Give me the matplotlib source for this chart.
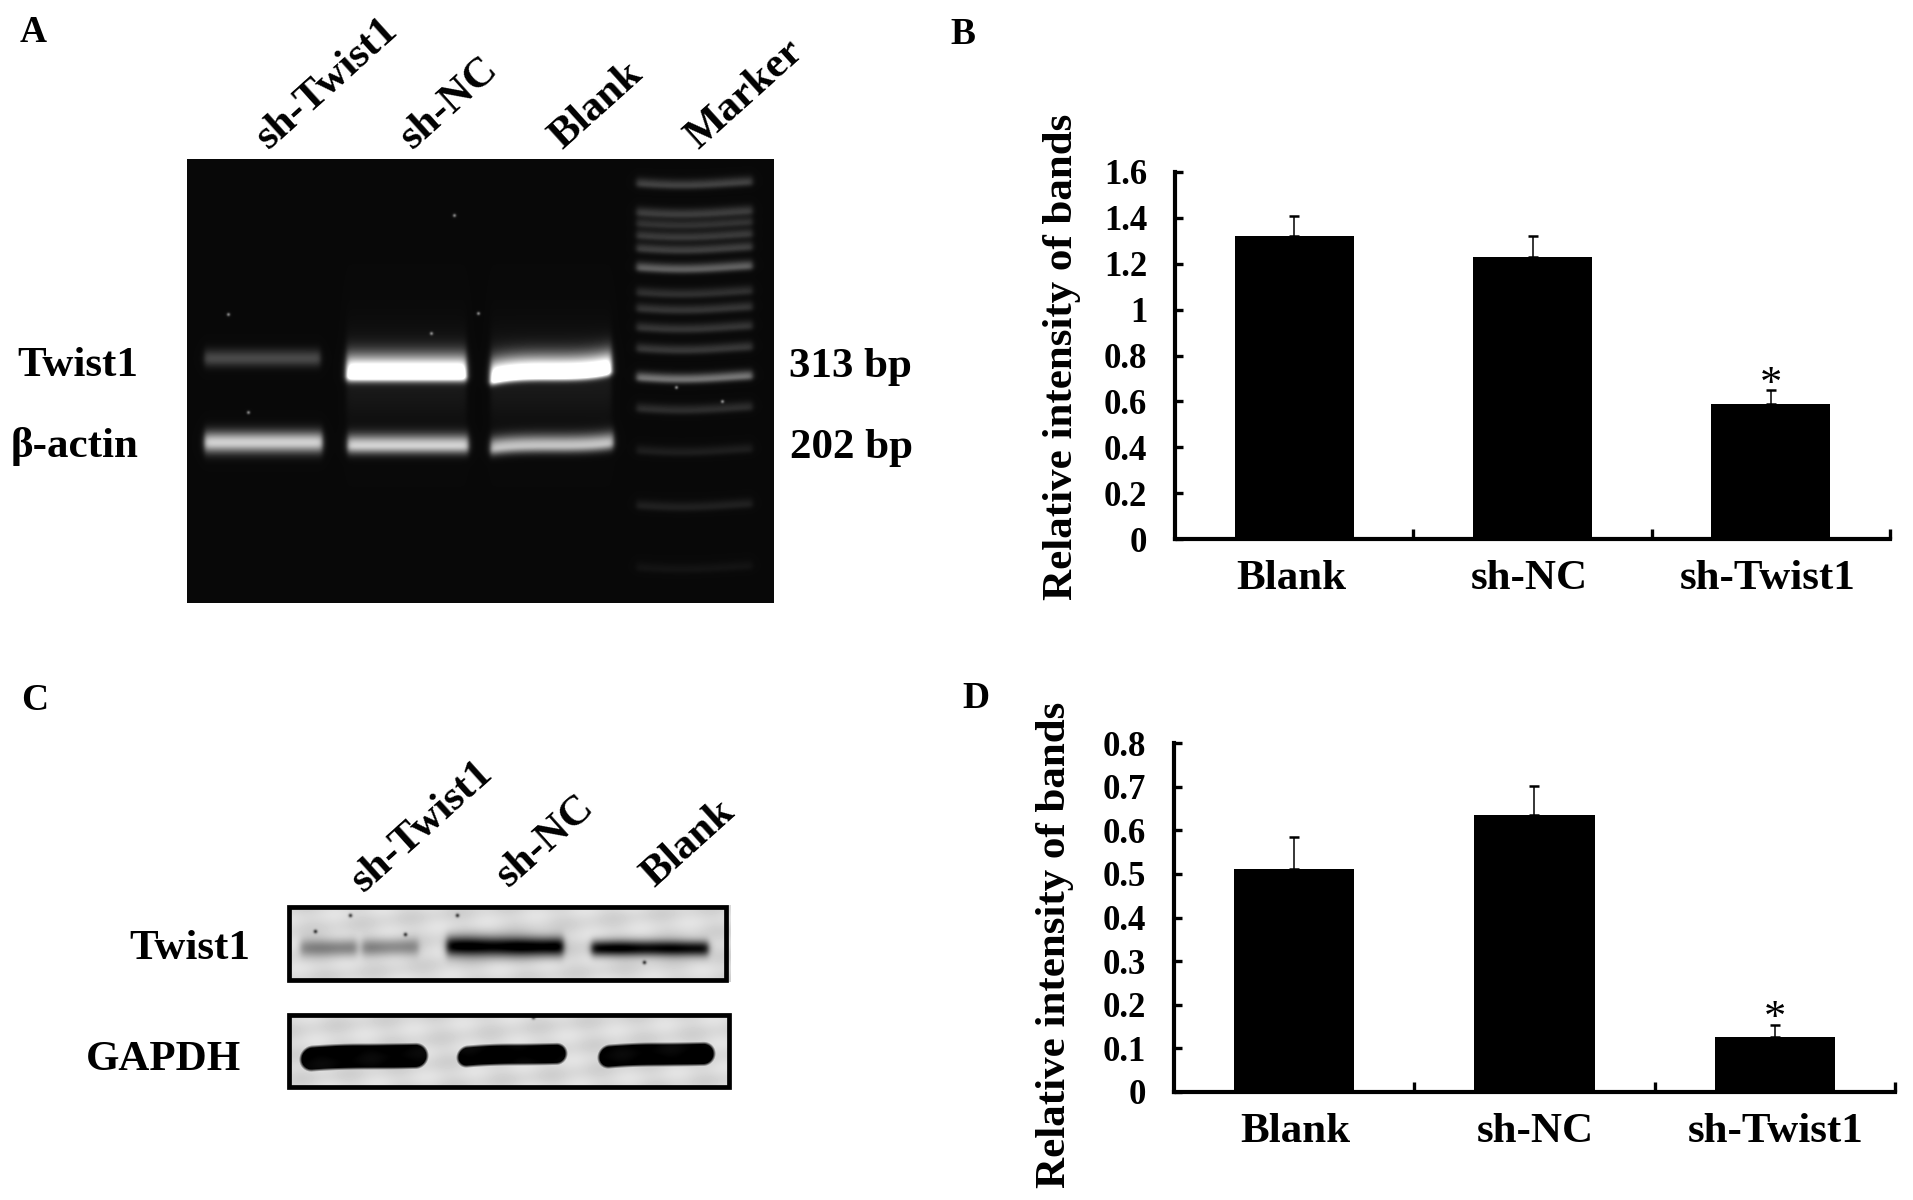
import numpy as np
import matplotlib
matplotlib.use('Agg')
import matplotlib.pyplot as plt
from matplotlib.patches import Rectangle
from matplotlib.transforms import ScaledTranslation

plt.rcParams['font.family'] = ['Liberation Serif', 'DejaVu Serif']
plt.rcParams['font.weight'] = 'bold'
plt.rcParams['axes.labelweight'] = 'bold'

W, H = 1913, 1200

# bar chart data
GROUPS = ['Blank', 'sh-NC', 'sh-Twist1']
B_VALUES = [1.32, 1.23, 0.59]
B_ERRORS = [0.09, 0.09, 0.06]
B_TICKS = [0, 0.2, 0.4, 0.6, 0.8, 1, 1.2, 1.4, 1.6]
B_TICK_LABELS = ['0', '0.2', '0.4', '0.6', '0.8', '1', '1.2', '1.4', '1.6']
D_VALUES = [0.512, 0.634, 0.125]
D_ERRORS = [0.072, 0.067, 0.028]
D_TICKS = [0, 0.1, 0.2, 0.3, 0.4, 0.5, 0.6, 0.7, 0.8]
D_TICK_LABELS = ['0', '0.1', '0.2', '0.3', '0.4', '0.5', '0.6', '0.7', '0.8']

# gel bands: x0, x1, y, brightness, glow above, fall below, tilt
GEL_BANDS = [
    (204, 320, 358, 0.25, 9, 8, 0),
    (346, 466, 375, 1.3, 19, 6, 0),
    (490, 611, 375, 1.3, 19, 5, -5),
    (204, 322, 442, 0.78, 11, 10, 0),
    (347, 468, 445, 0.78, 11, 8, 0),
    (490, 613, 445, 0.72, 11, 7, -3),
]
MARKER_Y = [183, 212, 223, 235, 248, 267, 292, 308, 327, 348, 377, 408, 450, 505, 567]
MARKER_AMP = [0.22, 0.20, 0.16, 0.19, 0.21, 0.34, 0.15, 0.17, 0.17, 0.18, 0.42, 0.14, 0.08, 0.09, 0.04]
GEL_SPECKS = [(454, 215), (431, 333), (478, 313), (248, 412), (676, 387), (722, 401), (228, 314)]

# western blot bands: x0, x1, y, darkness, half height
TWIST_BANDS = [
    (300, 356, 947, 0.33, 9), (362, 418, 947, 0.30, 9),
    (446, 563, 946, 0.90, 10), (591, 708, 948, 0.85, 8),
]
GAPDH_BANDS = [(300, 427, 1056, 12), (457, 566, 1054, 10), (598, 714, 1054, 11)]
BLOT_SPECKS = [(350, 915), (405, 934), (457, 915), (644, 962), (533, 1017), (315, 931)]


def draw_gel():
    x, y = np.meshgrid(np.arange(187, 774), np.arange(159, 603))
    img = np.full(x.shape, 0.035)
    for x0, x1, yc, amp, up, down, tilt in GEL_BANDS:
        xm = (x0 + x1) / 2
        cy = yc + tilt * np.clip((x - xm) / (x1 - x0) * 2, -1, 1) ** 3
        dy = y - cy
        prof = np.where(dy < 0, np.exp(-(dy / up) ** 2), np.exp(-(dy / down) ** 2))
        edge = 0.5 * (np.tanh((x - x0) / 3) - np.tanh((x - x1) / 3))
        img += amp * prof * edge
        if amp > 1:
            img += 0.07 * np.exp(-((y - yc) / 45) ** 2) * edge
    for yc, amp in zip(MARKER_Y, MARKER_AMP):
        cy = yc + 2 * np.sin((x - 634) / 30)
        dy = y - cy
        prof = np.where(dy < 0, np.exp(-(dy / 6) ** 2), np.exp(-(dy / 4) ** 2))
        edge = 0.5 * (np.tanh((x - 636) / 3) - np.tanh((x - 752) / 3))
        img += amp * prof * edge
    for sx, sy in GEL_SPECKS:
        img += 0.45 * np.exp(-((x - sx) ** 2 + (y - sy) ** 2) / 3.0)
    return np.clip(img, 0, 1)


def draw_blot(y0, y1, kind):
    x, y = np.meshgrid(np.arange(287, 731), np.arange(y0, y1))
    img = 0.85 + 0.04 * np.sin(x / 13.0 + y / 9.0) * np.sin(y / 7.0 - x / 21.0)
    if kind == 'twist':
        for x0, x1, yc, dark, half in TWIST_BANDS:
            edge = 0.5 * (np.tanh((x - x0) / 4) - np.tanh((x - x1) / 4))
            img -= dark * np.exp(-((y - yc) / half) ** 2) * edge
    else:
        for x0, x1, yc, r in GAPDH_BANDS:
            xm = (x0 + x1) / 2
            cy = yc + 3 * ((x - xm) / (x1 - x0) * 2) ** 2 * np.where(x < xm, 1, -0.3)
            d = np.hypot(np.maximum(np.abs(x - xm) - ((x1 - x0) / 2 - r), 0), y - cy)
            img -= 0.85 * np.clip(r + 1.5 - d, 0, 3) / 3
    for sx, sy in BLOT_SPECKS:
        img -= 0.55 * np.exp(-((x - sx) ** 2 + (y - sy) ** 2) / 4.0)
    return np.clip(img, 0, 1)


def bar_panel(left, right, top, bottom, values, errors, ticks, tick_labels, ymax, star_y, label_shift):
    ax = fig.add_axes([left / W, 1 - bottom / H, (right - left) / W, (bottom - top) / H])
    ax.patch.set_alpha(0)
    pos = np.arange(len(GROUPS))
    ax.bar(pos, values, width=0.5, color='black')
    ax.errorbar(pos, values, yerr=[np.zeros(3), errors], fmt='none', ecolor='black',
                elinewidth=1.1, capsize=3.5, capthick=1.8)
    ax.set_xlim(-0.5, 2.5)
    ax.set_ylim(0, ymax)
    ax.set_xticks(pos, GROUPS, fontsize=31)
    ax.set_xticks([0.5, 1.5, 2.5], minor=True)
    ax.set_yticks(ticks, tick_labels, fontsize=25)
    ax.tick_params(axis='x', which='major', length=0, pad=15)
    ax.tick_params(axis='x', which='minor', direction='in', length=7, width=2.4)
    ax.tick_params(axis='y', direction='in', length=6, width=2.4, pad=20)
    shift = ScaledTranslation(label_shift / 100, 0, fig.dpi_scale_trans)
    for lab in ax.get_xticklabels():
        lab.set_transform(lab.get_transform() + shift)
    for s in ['top', 'right']:
        ax.spines[s].set_visible(False)
    for s in ['left', 'bottom']:
        ax.spines[s].set_linewidth(3)
    ax.text(2, star_y, '*', ha='center', va='center', fontsize=32, fontweight='normal')
    return ax


fig = plt.figure(figsize=(W / 100, H / 100), dpi=100, facecolor='white')

# whole figure axes in pixels, for the blots and free labels
page = fig.add_axes([0, 0, 1, 1])
page.imshow(draw_gel(), cmap='gray', vmin=0, vmax=1, extent=(187, 774, 603, 159),
            aspect='auto', interpolation='bilinear')
page.imshow(draw_blot(905, 982, 'twist'), cmap='gray', vmin=0, vmax=1,
            extent=(287, 731, 982, 905), aspect='auto', interpolation='bilinear')
page.imshow(draw_blot(1013, 1089, 'gapdh'), cmap='gray', vmin=0, vmax=1,
            extent=(287, 731, 1089, 1013), aspect='auto', interpolation='bilinear')
page.add_patch(Rectangle((289, 907), 437, 73, fill=False, ec='black', lw=3.4))
page.add_patch(Rectangle((289, 1015), 440, 72, fill=False, ec='black', lw=3.4))
page.set_xlim(0, W)
page.set_ylim(H, 0)
page.axis('off')

for s, x, y in [('A', 33, 33), ('B', 963, 35), ('C', 35, 701), ('D', 976, 699)]:
    page.text(x, y, s, fontsize=27, ha='center', va='center')

for s, x, y in [('sh-Twist1', 269, 150), ('sh-NC', 413, 150), ('Blank', 562, 150), ('Marker', 698, 150),
                ('sh-Twist1', 364, 893), ('sh-NC', 509, 888), ('Blank', 654, 888)]:
    page.text(x, y, s, fontsize=31, rotation=42, ha='left', va='baseline', rotation_mode='anchor')

for s, x, y in [('Twist1', 78, 366), ('β-actin', 75, 447), ('Twist1', 190, 949), ('GAPDH', 163, 1060),
                ('313 bp', 850, 367), ('202 bp', 852, 448)]:
    page.text(x, y, s, fontsize=31, ha='center', va='center')

ax_b = bar_panel(1175, 1890, 172, 539, B_VALUES, B_ERRORS, B_TICKS, B_TICK_LABELS, 1.6, 0.673, -3)
ax_d = bar_panel(1174, 1895, 743, 1092, D_VALUES, D_ERRORS, D_TICKS, D_TICK_LABELS, 0.8, 0.167, 1)

for ax, x, y in [(ax_b, 1081, 357), (ax_d, 1074, 945)]:
    ax.set_ylabel('Relative intensity of bands', fontsize=31)
    ax.yaxis.set_label_coords(x / W, 1 - y / H, transform=fig.transFigure)

fig.savefig('out.png', dpi=100)
